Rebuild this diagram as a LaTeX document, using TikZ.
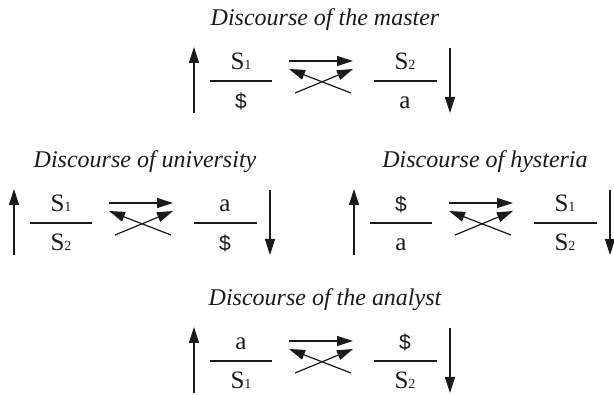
\documentclass[tikz,border=0pt]{standalone}
\usepackage{fontspec}
\setmainfont{Liberation Serif}
\newfontfamily\dollarfont{Liberation Sans}
\usetikzlibrary{arrows.meta}
\definecolor{Ink}{HTML}{1A1A1A}
\newcommand{\Sub}[2]{#1{\fontsize{14}{14}\selectfont #2}}
\newcommand{\Sbar}{{\dollarfont\fontsize{21}{21}\selectfont\$}}
\begin{document}
\begin{tikzpicture}[x=1pt,y=-1pt,line width=1.2pt,Ink,
  >={Triangle[length=16pt,width=10pt]},
  title/.style={anchor=base,inner sep=0pt,font=\fontsize{24}{28}\selectfont\itshape},
  term/.style={anchor=base,inner sep=0pt,font=\fontsize{25}{28}\selectfont}]
\useasboundingbox (0,0) rectangle (614,395);
\foreach \d/\x/\y/\ttl/\tl/\bl/\tr/\br in {
  mas/194/81/{Discourse of the master}/{\Sub S1}/{\Sbar}/{\Sub S2}/a,
  uni/14/223/{Discourse of university}/{\Sub S1}/{\Sub S2}/a/{\Sbar},
  hys/354/223/{Discourse of hysteria}/{\Sbar}/a/{\Sub S1}/{\Sub S2},
  ana/194/361/{Discourse of the analyst}/a/{\Sub S1}/{\Sbar}/{\Sub S2}}{
\begin{scope}[shift={(\x,\y)}]
\node[title] (\d-ttl) at (131,-55){\ttl};
\node[term] (\d-tl) at (47,-11){\tl};
\node[term] (\d-bl) at (47,28){\bl};
\node[term] (\d-tr) at (211,-11){\tr};
\node[term] (\d-br) at (211,28){\br};
\draw (16,0) -- (78,0);
\draw (180,0) -- (243,0);
\coordinate (\d-up0) at (0,32);\coordinate (\d-up1) at (0,-34);
\coordinate (\d-dn0) at (256,-33);\coordinate (\d-dn1) at (256,32);
\coordinate (\d-a0) at (95,-20);\coordinate (\d-a1) at (159,-20);
\coordinate (\d-c0) at (101,12);\coordinate (\d-c1) at (159,-12);
\coordinate (\d-c2) at (157,12);\coordinate (\d-c3) at (95,-12);
\draw[->] (\d-up0) -- (\d-up1);
\draw[->] (\d-dn0) -- (\d-dn1);
\draw[->] (\d-a0) -- (\d-a1);
\draw[->] (\d-c0) -- (\d-c1);
\draw[->] (\d-c2) -- (\d-c3);
\end{scope}}
\end{tikzpicture}
\end{document}
